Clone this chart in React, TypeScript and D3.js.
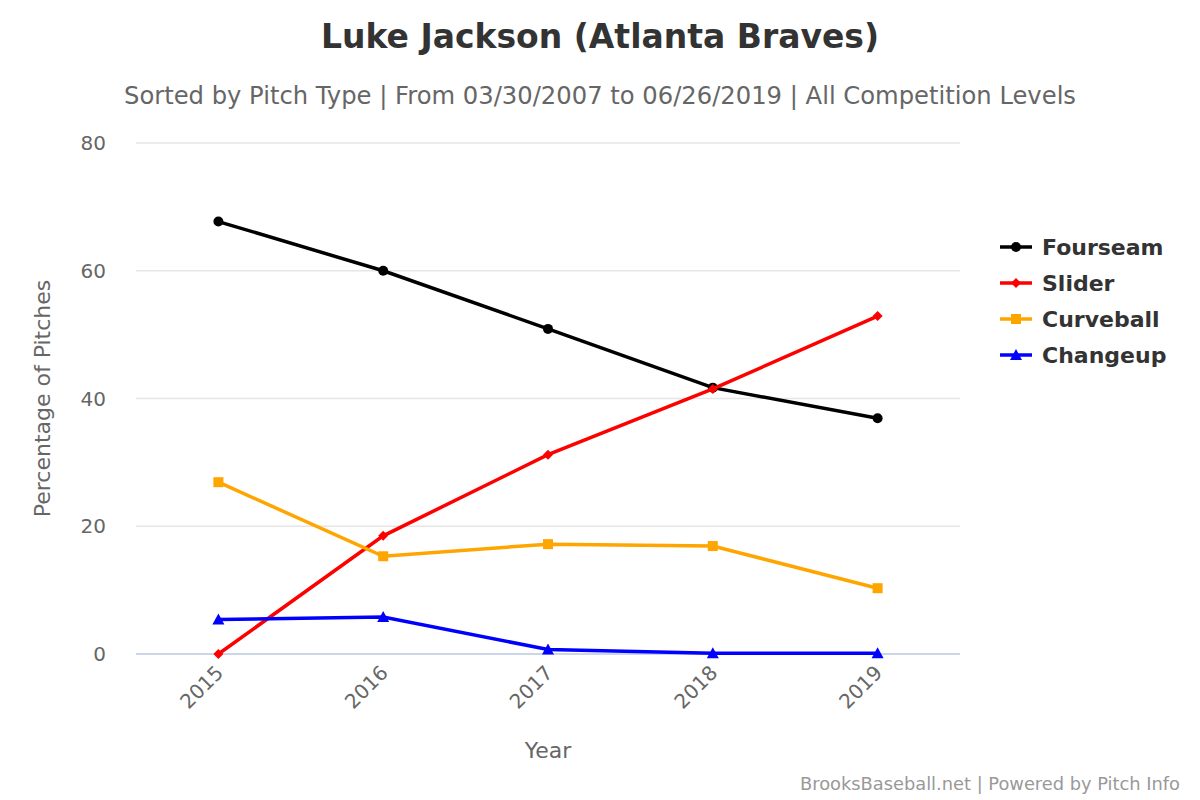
import React from "react";
import * as d3 from "d3";

const years = ["2015", "2016", "2017", "2018", "2019"];
const fourseam = [67.7, 60.0, 50.9, 41.7, 36.9];
const slider = [0.0, 18.5, 31.2, 41.5, 52.9];
const curveball = [26.9, 15.3, 17.2, 16.9, 10.3];
const changeup = [5.4, 5.8, 0.7, 0.1, 0.1];
const yTicks = [0, 20, 40, 60, 80];

const seriesNames = ["Fourseam", "Slider", "Curveball", "Changeup"];
const seriesColors = ["#000000", "#ff0000", "#ffa500", "#0000ff"];
const seriesSymbols = ["circle", "diamond", "square", "triangle"];
const seriesData = [fourseam, slider, curveball, changeup];

const W = 1200;
const H = 800;
const left = 136;
const right = 960;
const top = 143;
const bottom = 654;

const FONT = "'DejaVu Sans', sans-serif";

function Marker({ kind, x, y, color }: { kind: string; x: number; y: number; color: string }) {
  if (kind === "circle") return <circle cx={x} cy={y} r={5} fill={color} />;
  if (kind === "diamond")
    return <path d={`M${x},${y - 5}L${x + 5},${y}L${x},${y + 5}L${x - 5},${y}Z`} fill={color} />;
  if (kind === "square") return <rect x={x - 5} y={y - 5} width={10} height={10} fill={color} />;
  return <path d={`M${x},${y - 6}L${x + 6},${y + 5}L${x - 6},${y + 5}Z`} fill={color} />;
}

export default function App() {
  const x = d3.scaleBand<string>().domain(years).range([left, right]);
  const y = d3.scaleLinear().domain([0, 80]).range([bottom, top]);
  const cx = (yr: string) => (x(yr) ?? 0) + x.bandwidth() / 2;
  const line = d3
    .line<number>()
    .x((_, i) => cx(years[i]))
    .y((v) => y(v));

  return (
    <svg width={W} height={H} style={{ position: "absolute", left: 0, top: 0, fontFamily: FONT }}>
      <rect width={W} height={H} fill="#ffffff" />
      <text x={600} y={48} textAnchor="middle" fontSize={33} fontWeight="bold" fill="#333333">
        Luke Jackson (Atlanta Braves)
      </text>
      <text x={600} y={104} textAnchor="middle" fontSize={24} fill="#666666" textLength={952} lengthAdjust="spacingAndGlyphs">
        Sorted by Pitch Type | From 03/30/2007 to 06/26/2019 | All Competition Levels
      </text>

      {yTicks.map((t) => (
        <g key={t}>
          <line
            x1={left}
            x2={right}
            y1={y(t)}
            y2={y(t)}
            stroke={t === 0 ? "#ccd6eb" : "#e6e6e6"}
            strokeWidth={t === 0 ? 2 : 1.5}
          />
          <text x={106} y={y(t) + 7} textAnchor="end" fontSize={20} fill="#666666">
            {t}
          </text>
        </g>
      ))}

      {years.map((yr) => (
        <text
          key={yr}
          transform={`translate(${cx(yr) + 6},${674}) rotate(-45)`}
          textAnchor="end"
          fontSize={20}
          fill="#666666"
        >
          {yr}
        </text>
      ))}

      <text
        transform={`translate(50,${(top + bottom) / 2}) rotate(-90)`}
        textAnchor="middle"
        fontSize={22}
        fill="#666666"
      >
        Percentage of Pitches
      </text>
      <text x={548} y={758} textAnchor="middle" fontSize={22} fill="#666666">
        Year
      </text>

      {seriesData.map((data, si) => (
        <g key={seriesNames[si]}>
          <path d={line(data) ?? ""} fill="none" stroke={seriesColors[si]} strokeWidth={3.5} />
          {data.map((v, i) => (
            <Marker key={i} kind={seriesSymbols[si]} x={cx(years[i])} y={y(v)} color={seriesColors[si]} />
          ))}
        </g>
      ))}

      {seriesNames.map((name, si) => {
        const ly = 247 + si * 36;
        return (
          <g key={name}>
            <line x1={1000} x2={1032} y1={ly} y2={ly} stroke={seriesColors[si]} strokeWidth={3.5} />
            <Marker kind={seriesSymbols[si]} x={1016} y={ly} color={seriesColors[si]} />
            <text x={1042} y={ly + 8} fontSize={22} fontWeight="bold" fill="#333333">
              {name}
            </text>
          </g>
        );
      })}

      <text x={1180} y={790} textAnchor="end" fontSize={18} fill="#999999" textLength={380} lengthAdjust="spacingAndGlyphs">
        BrooksBaseball.net | Powered by Pitch Info
      </text>
    </svg>
  );
}
